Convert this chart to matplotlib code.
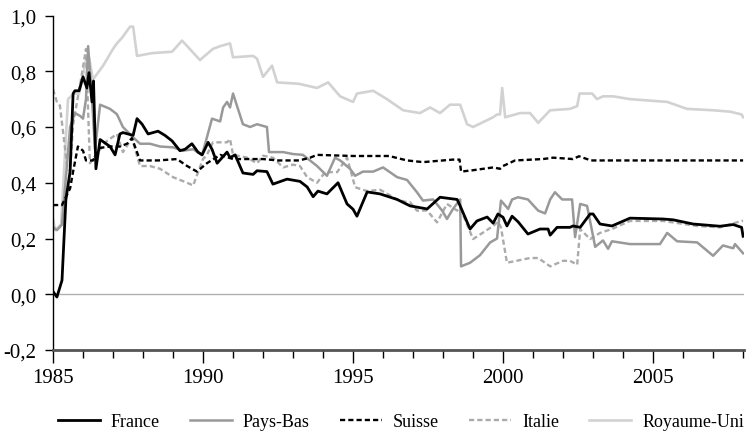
import matplotlib
matplotlib.use("Agg")
import matplotlib.pyplot as plt
from matplotlib.ticker import MultipleLocator, FuncFormatter

plt.rcParams['font.family'] = ['Liberation Serif', 'DejaVu Serif']
plt.rcParams['font.size'] = 14

# ---- data (decimal years, values) ----
fr_x = [1985.0, 1985.13, 1985.3, 1985.43, 1985.57, 1985.67, 1985.73, 1985.87, 1986.0, 1986.13, 1986.2, 1986.3,
        1986.35, 1986.43, 1986.57, 1986.9, 1987.07, 1987.23, 1987.33, 1987.67, 1987.8, 1987.97, 1988.17, 1988.5,
        1988.73, 1988.97, 1989.23, 1989.4, 1989.63, 1989.83, 1989.97, 1990.17, 1990.3, 1990.47, 1990.8, 1990.9,
        1991.07, 1991.33, 1991.67, 1991.8, 1992.13, 1992.33, 1992.8, 1993.23, 1993.47, 1993.67, 1993.83, 1994.13,
        1994.5, 1994.8, 1995.0, 1995.13, 1995.47, 1995.9, 1996.47, 1996.9, 1997.47, 1997.9, 1998.47, 1998.57,
        1998.9, 1999.13, 1999.47, 1999.67, 1999.83, 2000.0, 2000.13, 2000.3, 2000.5, 2000.83, 2001.23, 2001.5,
        2001.57, 2001.8, 2002.23, 2002.33, 2002.57, 2002.9, 2003.0, 2003.23, 2003.63, 2004.23, 2005.33, 2005.67,
        2006.33, 2007.23, 2007.67, 2007.95, 2008.0]
fr_y = [0.01, -0.01, 0.05, 0.34, 0.44, 0.72, 0.73, 0.73, 0.78, 0.74, 0.795, 0.69,
        0.765, 0.45, 0.555, 0.53, 0.50, 0.575, 0.58, 0.57, 0.63, 0.61, 0.575, 0.585,
        0.57, 0.55, 0.515, 0.52, 0.54, 0.51, 0.50, 0.545, 0.52, 0.47, 0.51, 0.49,
        0.50, 0.435, 0.43, 0.443, 0.44, 0.395, 0.413, 0.405, 0.385, 0.35, 0.37, 0.36,
        0.40, 0.324, 0.305, 0.28, 0.367, 0.36, 0.34, 0.317, 0.306, 0.348, 0.34, 0.317,
        0.234, 0.263, 0.277, 0.255, 0.288, 0.276, 0.245, 0.28, 0.26, 0.216, 0.234, 0.234,
        0.212, 0.24, 0.24, 0.245, 0.24, 0.288, 0.288, 0.252, 0.245, 0.273, 0.27, 0.267,
        0.252, 0.244, 0.25, 0.24, 0.208]

pb_x = [1985.0, 1985.13, 1985.3, 1985.57, 1985.73, 1985.9, 1986.0, 1986.1, 1986.17, 1986.3, 1986.4, 1986.57,
        1986.9, 1987.13, 1987.33, 1987.67, 1987.9, 1988.23, 1988.57, 1989.0, 1989.33, 1989.67, 1989.97, 1990.3,
        1990.57, 1990.67, 1990.8, 1990.9, 1991.0, 1991.33, 1991.57, 1991.8, 1992.13, 1992.2, 1992.67, 1993.0,
        1993.33, 1993.8, 1994.13, 1994.4, 1994.57, 1994.9, 1995.07, 1995.33, 1995.67, 1996.0, 1996.47, 1996.8,
        1997.13, 1997.33, 1997.67, 1997.97, 1998.13, 1998.33, 1998.57, 1998.6, 1998.9, 1999.23, 1999.57, 1999.8,
        1999.93, 2000.17, 2000.3, 2000.5, 2000.83, 2001.17, 2001.4, 2001.57, 2001.73, 2001.97, 2002.3, 2002.4,
        2002.57, 2002.8, 2003.07, 2003.33, 2003.5, 2003.63, 2004.23, 2005.23, 2005.47, 2005.8, 2006.47, 2007.0,
        2007.33, 2007.67, 2007.73, 2008.0]
pb_y = [0.24, 0.23, 0.25, 0.60, 0.65, 0.64, 0.63, 0.70, 0.89, 0.70, 0.52, 0.68,
        0.665, 0.646, 0.60, 0.563, 0.54, 0.54, 0.53, 0.527, 0.515, 0.52, 0.50, 0.63,
        0.62, 0.67, 0.69, 0.67, 0.72, 0.61, 0.60, 0.61, 0.60, 0.51, 0.51, 0.503,
        0.50, 0.46, 0.425, 0.49, 0.48, 0.45, 0.425, 0.44, 0.44, 0.455, 0.42, 0.41,
        0.366, 0.336, 0.34, 0.30, 0.27, 0.306, 0.34, 0.10, 0.113, 0.14, 0.186, 0.20,
        0.336, 0.306, 0.34, 0.348, 0.34, 0.30, 0.29, 0.34, 0.366, 0.34, 0.34, 0.205,
        0.324, 0.317, 0.17, 0.193, 0.163, 0.19, 0.18, 0.18, 0.22, 0.19, 0.186, 0.138,
        0.175, 0.165, 0.18, 0.147]

ch_x = [1985.0, 1985.3, 1985.57, 1985.67, 1985.83, 1986.0, 1986.1, 1986.33, 1986.57, 1986.9, 1987.23, 1987.47,
        1987.63, 1987.9, 1988.5, 1989.13, 1989.47, 1989.8, 1990.13, 1990.57, 1991.0, 1991.57, 1992.0, 1992.5,
        1993.2, 1993.57, 1993.8, 1995.0, 1996.2, 1996.8, 1997.33, 1998.33, 1998.55, 1998.6, 1999.0, 1999.67,
        1999.9, 2000.0, 2000.4, 2001.33, 2001.67, 2002.33, 2002.53, 2002.93, 2004.0, 2006.0, 2008.0]
ch_y = [0.32, 0.32, 0.38, 0.44, 0.53, 0.515, 0.48, 0.48, 0.525, 0.53, 0.53, 0.54,
        0.56, 0.48, 0.48, 0.485, 0.46, 0.44, 0.47, 0.50, 0.485, 0.485, 0.485, 0.48,
        0.48, 0.49, 0.50, 0.496, 0.496, 0.48, 0.474, 0.483, 0.483, 0.44, 0.445, 0.455,
        0.45, 0.46, 0.48, 0.485, 0.49, 0.485, 0.495, 0.48, 0.48, 0.48, 0.48]

it_x = [1985.0, 1985.13, 1985.23, 1985.47, 1985.57, 1985.67, 1985.9, 1986.1, 1986.23, 1986.5, 1986.8, 1987.13,
        1987.33, 1987.63, 1987.9, 1988.23, 1988.57, 1989.0, 1989.47, 1989.67, 1989.67, 1990.0, 1990.13, 1990.33,
        1990.8, 1990.9, 1991.0, 1991.47, 1991.8, 1992.0, 1992.33, 1992.67, 1993.0, 1993.23, 1993.47, 1993.8,
        1994.07, 1994.47, 1994.8, 1995.07, 1995.47, 1995.9, 1996.47, 1996.8, 1996.9, 1997.13, 1997.47, 1997.8,
        1998.13, 1998.47, 1998.57, 1999.0, 1999.67, 1999.83, 1999.93, 2000.13, 2000.9, 2001.17, 2001.57, 2002.0,
        2002.23, 2002.47, 2002.57, 2002.9, 2003.23, 2003.63, 2004.23, 2005.33, 2006.47, 2007.23, 2007.95, 2008.0]
it_y = [0.735, 0.69, 0.677, 0.46, 0.44, 0.61, 0.75, 0.88, 0.47, 0.51, 0.55, 0.575,
        0.51, 0.56, 0.46, 0.46, 0.45, 0.42, 0.40, 0.39, 0.39, 0.485, 0.50, 0.545,
        0.545, 0.557, 0.50, 0.49, 0.47, 0.497, 0.49, 0.455, 0.465, 0.46, 0.42, 0.40,
        0.438, 0.438, 0.49, 0.384, 0.37, 0.375, 0.34, 0.33, 0.33, 0.30, 0.30, 0.258,
        0.324, 0.30, 0.31, 0.198, 0.245, 0.26, 0.24, 0.113, 0.13, 0.13, 0.10, 0.12,
        0.12, 0.106, 0.234, 0.198, 0.22, 0.234, 0.263, 0.263, 0.245, 0.24, 0.263, 0.263]

uk_x = [1985.0, 1985.07, 1985.27, 1985.5, 1985.7, 1985.87, 1986.1, 1986.2, 1986.33, 1986.67, 1987.0, 1987.13,
        1987.3, 1987.57, 1987.67, 1987.8, 1988.3, 1988.97, 1989.3, 1989.9, 1990.0, 1990.33, 1990.57, 1990.9,
        1991.0, 1991.67, 1991.8, 1992.0, 1992.3, 1992.47, 1993.2, 1993.8, 1994.17, 1994.57, 1995.0, 1995.13,
        1995.67, 1996.13, 1996.67, 1997.23, 1997.57, 1997.9, 1998.23, 1998.57, 1998.8, 1999.0, 1999.67, 1999.8,
        1999.9, 1999.97, 2000.07, 2000.57, 2000.9, 2001.17, 2001.57, 2002.23, 2002.47, 2002.55, 2002.97, 2003.13,
        2003.33, 2003.67, 2004.23, 2005.47, 2006.13, 2007.0, 2007.57, 2007.95, 2008.0]
uk_y = [0.27, 0.23, 0.25, 0.70, 0.72, 0.72, 0.84, 0.85, 0.77, 0.82, 0.88, 0.90,
        0.92, 0.96, 0.96, 0.855, 0.865, 0.87, 0.91, 0.84, 0.85, 0.88, 0.89, 0.90,
        0.85, 0.855, 0.845, 0.78, 0.82, 0.76, 0.755, 0.74, 0.76, 0.71, 0.69, 0.72,
        0.73, 0.70, 0.66, 0.65, 0.67, 0.65, 0.68, 0.68, 0.61, 0.60, 0.635, 0.645,
        0.645, 0.74, 0.635, 0.65, 0.65, 0.615, 0.66, 0.665, 0.675, 0.72, 0.72, 0.70,
        0.71, 0.71, 0.70, 0.69, 0.665, 0.66, 0.655, 0.645, 0.635]

series = [
    ("France", fr_x, fr_y, dict(color="black", lw=2.0, ls="-")),
    ("Pays-Bas", pb_x, pb_y, dict(color="#999999", lw=1.8, ls="-")),
    ("Suisse", ch_x, ch_y, dict(color="black", lw=1.7, ls=(0, (2.2, 1.3)))),
    ("Italie", it_x, it_y, dict(color="#ababab", lw=1.7, ls=(0, (2.2, 1.3)))),
    ("Royaume-Uni", uk_x, uk_y, dict(color="#d2d2d2", lw=1.9, ls="-")),
]

fig = plt.figure(figsize=(7.49, 4.39), dpi=100)
ax = fig.add_axes([53/749, 1-351/439, (744-53)/749, (351-16.5)/439])

ax.axhline(0, color="#b0b0b0", lw=1.0, zorder=1)
for name, xs, ys, st in reversed(series):
    ax.plot(xs, ys, label=name, zorder=3 if name in ("France", "Suisse") else 2, **st)

ax.set_xlim(1985, 2008.03)
ax.set_ylim(-0.2, 1.0)
ax.xaxis.set_major_locator(MultipleLocator(5))
ax.xaxis.set_minor_locator(MultipleLocator(1))
ax.yaxis.set_major_locator(MultipleLocator(0.2))
ax.yaxis.set_major_formatter(FuncFormatter(lambda v, p: f"{v:.1f}".replace(".", ",").replace("-0,0", "0,0")))
ax.xaxis.set_major_formatter(FuncFormatter(lambda v, p: f"{int(round(v))}"))

for s in ("top", "right"):
    ax.spines[s].set_visible(False)
ax.spines["left"].set_color("black")
ax.spines["left"].set_linewidth(1.0)
ax.spines["bottom"].set_color("#555555")
ax.spines["bottom"].set_linewidth(2.0)

ax.tick_params(axis="y", direction="out", length=6, width=1, color="black", pad=6, labelsize=15)
ax.tick_params(axis="x", which="major", direction="out", length=9, width=1, color="black", pad=4, labelsize=15)
ax.tick_params(axis="x", which="minor", direction="out", length=6, width=1, color="black")

handles, labels = ax.get_legend_handles_labels()
order = ["France", "Pays-Bas", "Suisse", "Italie", "Royaume-Uni"]
hd = dict(zip(labels, handles))
fig.legend([hd[n] for n in order], order, loc="center", bbox_to_anchor=(0.535, 1-423/439),
           ncol=5, frameon=False, handlelength=2.35, handletextpad=0.6, columnspacing=1.65, fontsize=13)

fig.savefig("out.png", dpi=100)
